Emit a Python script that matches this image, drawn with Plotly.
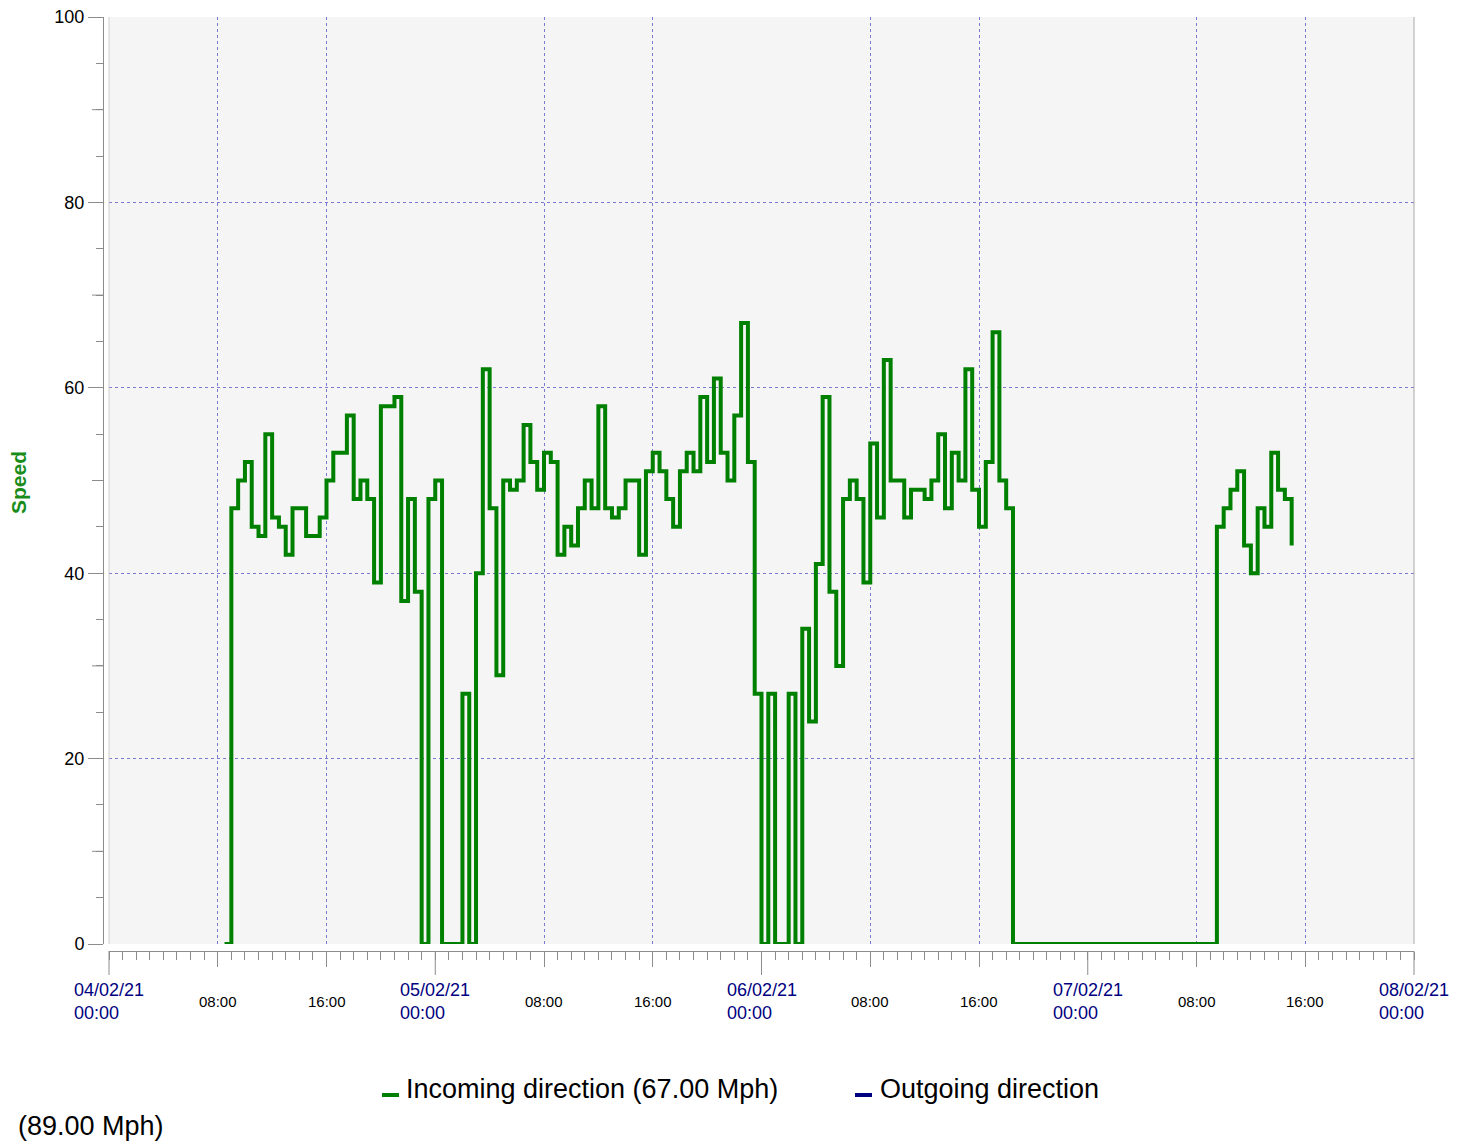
import pandas as pd
import plotly.graph_objects as go

# half-hourly readings, first one at 04/02/21 08:30
start_time = "2021-02-04 08:30"
incoming_speed = [
    0,
    47, 50, 52, 45, 44, 55, 46, 45, 42, 47,
    47, 44, 44, 46, 50, 53, 53, 57, 48, 50,
    48, 39, 58, 58, 59, 37, 48, 38,
    0, 48, 50, 0, 0, 0, 27, 0, 40, 62, 47, 29,
    50, 49, 50, 56, 52, 49, 53, 52, 42, 45,
    43, 47, 50, 47, 58, 47, 46, 47, 50, 50,
    42, 51, 53, 51, 48, 45, 51, 53, 51, 59,
    52, 61, 53, 50, 57, 67, 52,
    27, 0, 27, 0, 0, 27, 0, 34, 24,
    41, 59, 38, 30, 48, 50, 48, 39, 54, 46,
    63, 50, 50, 46, 49, 49, 48, 50, 55, 47,
    53, 50, 62, 49, 45, 52, 66, 50, 47,
    0, 0, 0, 0, 0, 0, 0, 0, 0, 0,
    0, 0, 0, 0, 0, 0, 0, 0, 0, 0,
    0, 0, 0, 0, 0, 0, 0, 0, 0, 0,
    45, 47, 49, 51, 43, 40, 47, 45, 53, 49, 48, 43,
]
times = pd.date_range(start_time, periods=len(incoming_speed), freq="30min")

range_start = pd.Timestamp("2021-02-04 00:00")
range_end = pd.Timestamp("2021-02-08 00:00")
y_ticks = [0, 20, 40, 60, 80, 100]
y_mid_ticks = [10, 30, 50, 70, 90]
day_ticks = pd.date_range(range_start, range_end, freq="D")
hour_ticks = [d + pd.Timedelta(hours=h) for d in day_ticks[:-1] for h in (8, 16)]

incoming_label = "Incoming direction (67.00 Mph)"
outgoing_label = "Outgoing direction"
outgoing_max = "(89.00 Mph)"

GREEN = "#008000"
NAVY = "#000080"
GRID = "#7a7ad0"
AXIS = "#8c8c8c"
FONT = "Liberation Sans"

# the page puts the figure 8px in from the top-left corner
PAGE = 8
W, H = 1470 - PAGE, 1144 - PAGE
L, R, T, B = 95, 56, 9, 193
plot_w = W - L - R
plot_h = H - T - B
x_dom0 = 6 / plot_w
y_dom0 = 7 / plot_h


def px_x(px):
    return (px - PAGE - L) / plot_w


def px_y(py):
    return (H - B - (py - PAGE)) / plot_h


def time_x(t):
    return x_dom0 + (t - range_start) / (range_end - range_start) * (1 - x_dom0)


fig = go.Figure()
fig.add_trace(go.Scatter(
    x=times, y=incoming_speed, mode="lines", line_shape="hv",
    line=dict(color=GREEN, width=4), cliponaxis=False,
    name=incoming_label, showlegend=False,
))

shapes = []
# longer ticks at midnight
for d in day_ticks:
    shapes.append(dict(type="line", xref="paper", yref="paper",
                       x0=time_x(d), x1=time_x(d), y0=px_y(951), y1=px_y(975),
                       line=dict(color=AXIS, width=1)))
# medium ticks every 10 on the speed axis
for v in y_mid_ticks:
    shapes.append(dict(type="line", xref="paper", yref="y",
                       x0=px_x(92), x1=px_x(103), y0=v, y1=v,
                       line=dict(color=AXIS, width=1)))
# plot frame
shapes.append(dict(type="line", xref="paper", yref="paper", x0=1, x1=1,
                   y0=y_dom0, y1=1, line=dict(color="#a8a8a8", width=1)))
shapes.append(dict(type="line", xref="paper", yref="paper", x0=x_dom0, x1=x_dom0,
                   y0=y_dom0, y1=1, line=dict(color="#cfcfcf", width=1)))
# legend keys
shapes.append(dict(type="line", xref="paper", yref="paper", x0=px_x(382), x1=px_x(399),
                   y0=px_y(1095), y1=px_y(1095), line=dict(color=GREEN, width=4)))
shapes.append(dict(type="line", xref="paper", yref="paper", x0=px_x(855), x1=px_x(872),
                   y0=px_y(1095), y1=px_y(1095), line=dict(color=NAVY, width=4)))

annotations = []
for d in day_ticks:
    annotations.append(dict(
        x=time_x(d), y=px_y(1001), xref="paper", yref="paper",
        text=d.strftime("%d/%m/%y") + "<br>" + d.strftime("%H:%M"),
        showarrow=False, xanchor="center", yanchor="middle", align="left",
        font=dict(family=FONT, size=18, color=NAVY)))
for h in hour_ticks:
    annotations.append(dict(
        x=time_x(h), y=px_y(1001), xref="paper", yref="paper",
        text=h.strftime("%H:%M"), showarrow=False,
        xanchor="center", yanchor="middle",
        font=dict(family=FONT, size=15, color="#000000")))
annotations.append(dict(
    x=px_x(18), y=px_y(483), xref="paper", yref="paper", text="<b>Speed</b>",
    textangle=-90, showarrow=False, xanchor="center", yanchor="middle",
    font=dict(family=FONT, size=21, color="#1a8c1a")))
annotations.append(dict(
    x=px_x(404), y=px_y(1089), xref="paper", yref="paper", text=incoming_label,
    showarrow=False, xanchor="left", yanchor="middle",
    font=dict(family=FONT, size=27, color="#000000")))
annotations.append(dict(
    x=px_x(878), y=px_y(1089), xref="paper", yref="paper", text=outgoing_label,
    showarrow=False, xanchor="left", yanchor="middle",
    font=dict(family=FONT, size=27, color="#000000")))
annotations.append(dict(
    x=px_x(16), y=px_y(1126), xref="paper", yref="paper", text=outgoing_max,
    showarrow=False, xanchor="left", yanchor="middle",
    font=dict(family=FONT, size=27, color="#000000")))

fig.update_layout(
    width=W, height=H,
    margin=dict(l=L, r=R, t=T, b=B, pad=0, autoexpand=False),
    paper_bgcolor="white", plot_bgcolor="#f5f5f5",
    font=dict(family=FONT, size=18, color="#000000"),
    showlegend=False,
    xaxis=dict(
        type="date", range=[range_start, range_end], domain=[x_dom0, 1],
        anchor="free", position=0, automargin=False,
        tickvals=hour_ticks, showticklabels=False,
        ticks="outside", ticklen=15, tickcolor=AXIS, tickwidth=1,
        minor=dict(dtick=3600000, tick0="2021-02-04", ticks="outside",
                   ticklen=8, tickcolor=AXIS, showgrid=False),
        showgrid=True, gridcolor=GRID, griddash="dot", gridwidth=1,
        showline=True, linecolor=AXIS, linewidth=1, zeroline=False,
    ),
    yaxis=dict(
        range=[0, 100], domain=[y_dom0, 1],
        anchor="free", position=0, automargin=False,
        tickvals=y_ticks, ticks="outside", ticklen=15, tickcolor=AXIS,
        ticklabeloverflow="allow",
        minor=dict(dtick=5, ticks="outside", ticklen=7, tickcolor=AXIS, showgrid=False),
        tickfont=dict(family=FONT, size=18, color="#000000"),
        showgrid=True, gridcolor=GRID, griddash="dot", gridwidth=1,
        showline=True, linecolor=AXIS, linewidth=1, zeroline=False,
    ),
    shapes=shapes,
    annotations=annotations,
)

fig.write_html("out.html")
